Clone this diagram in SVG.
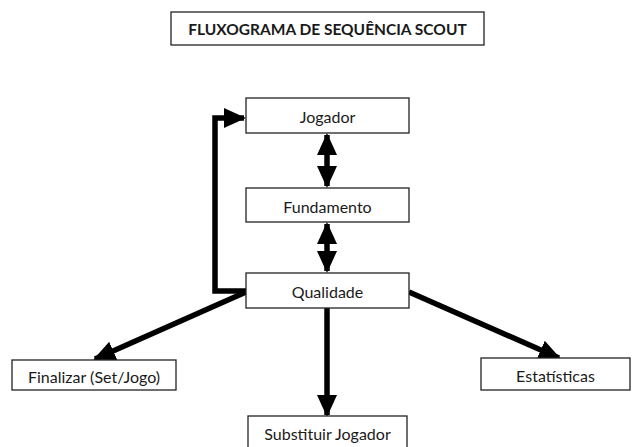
<svg xmlns="http://www.w3.org/2000/svg" width="632" height="447" viewBox="0 0 632 447">
<style>
.box{fill:#fff;stroke:#222;stroke-width:1.3}
.t{font-family:Lato,"Liberation Sans",sans-serif;font-size:16px;fill:#1a1a1a;text-anchor:middle;dominant-baseline:central}
.title{font-weight:bold;font-size:15.5px}
.c{stroke:#000;stroke-width:5.5;fill:none}
</style>
<defs>
<marker id="ah" markerUnits="userSpaceOnUse" markerWidth="22" markerHeight="22" refX="20" refY="11" orient="auto-start-reverse" viewBox="0 0 22 22">
<path d="M0,1 L22,11 L0,21 Z" fill="#000"/>
</marker>
</defs>
<rect width="632" height="447" fill="#fff"/>
<g id="title"><rect class="box" x="171" y="12" width="313" height="33"/><text class="t title" x="327.5" y="29">FLUXOGRAMA DE SEQUÊNCIA SCOUT</text></g>
<g id="connectors">
<line class="c" x1="327" y1="135" x2="327" y2="186" marker-start="url(#ah)" marker-end="url(#ah)"/>
<line class="c" x1="327" y1="224" x2="327" y2="271" marker-start="url(#ah)" marker-end="url(#ah)"/>
<polyline class="c" points="246,291 215,291 215,118 244,118" marker-end="url(#ah)"/>
<line class="c" x1="246" y1="292" x2="95" y2="359" marker-end="url(#ah)"/>
<line class="c" x1="409" y1="292" x2="559" y2="358" marker-end="url(#ah)"/>
<line class="c" x1="327" y1="308" x2="327" y2="415" marker-end="url(#ah)"/>
</g>
<g id="jogador"><rect class="box" x="246" y="98" width="163" height="35"/><text class="t" x="327.5" y="116">Jogador</text></g>
<g id="fundamento"><rect class="box" x="246" y="188" width="163" height="34"/><text class="t" x="327.5" y="206">Fundamento</text></g>
<g id="qualidade"><rect class="box" x="246" y="273" width="163" height="35"/><text class="t" x="327.5" y="291">Qualidade</text></g>
<g id="finalizar"><rect class="box" x="12" y="360" width="164" height="30"/><text class="t" x="94" y="376">Finalizar (Set/Jogo)</text></g>
<g id="estatisticas"><rect class="box" x="481" y="358" width="149" height="32"/><text class="t" x="555.5" y="375">Estatísticas</text></g>
<g id="substituir"><rect class="box" x="248" y="416" width="159" height="34"/><text class="t" x="327.5" y="433">Substituir Jogador</text></g>
</svg>
